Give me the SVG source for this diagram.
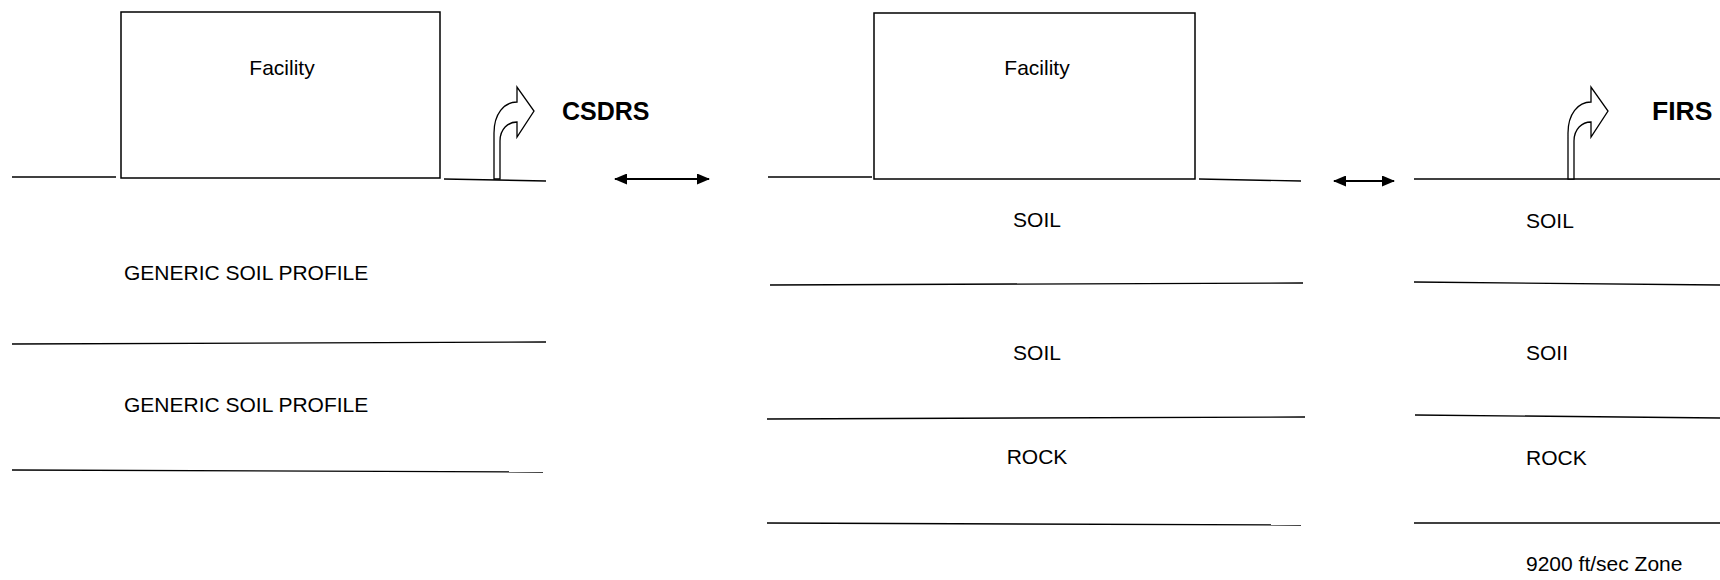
<svg xmlns="http://www.w3.org/2000/svg" width="1720" height="580" viewBox="0 0 1720 580">
<style>
.ln{stroke:#000;stroke-width:1.4;fill:none}
.box{stroke:#000;stroke-width:1.5;fill:#fff}
.t{font-family:"Liberation Sans",Arial,sans-serif;font-size:21px;fill:#000}
.b{font-family:"Liberation Sans",Arial,sans-serif;font-size:25px;font-weight:bold;fill:#000}
.c{text-anchor:middle}
.bent{stroke:#000;stroke-width:1.3;fill:#fff;stroke-linejoin:miter}
.dbl{stroke:#000;stroke-width:2;fill:none}
</style>
<defs>
<marker id="ah" viewBox="0 0 13 11" refX="12" refY="5.5" markerWidth="13" markerHeight="11" markerUnits="userSpaceOnUse" orient="auto-start-reverse">
<path d="M0,0 L13,5.5 L0,11 Z" fill="#000"/>
</marker>
<path id="bentArrow" d="M494,179 L494,133 C494,114 504,102 517,102 L517,87 L534,111 L517,137 L517,122 C508,122 500,129 500,141 L500,179 Z"/>
</defs>

<g id="left-profile">
<line class="ln" x1="12" y1="177" x2="116" y2="177"/>
<line class="ln" x1="444" y1="179" x2="546" y2="181"/>
<line class="ln" x1="12" y1="344" x2="546" y2="342"/>
<line class="ln" x1="12" y1="470" x2="543" y2="472"/>
<text class="t" x="124" y="280">GENERIC SOIL PROFILE</text>
<text class="t" x="124" y="412">GENERIC SOIL PROFILE</text>
</g>
<g id="left-facility">
<rect class="box" x="121" y="12" width="319" height="166"/>
<text class="t c" x="282" y="75">Facility</text>
</g>
<g id="csdrs">
<use href="#bentArrow" class="bent"/>
<text class="b" x="562" y="120">CSDRS</text>
</g>

<g id="middle-profile">
<line class="ln" x1="768" y1="177" x2="872" y2="177"/>
<line class="ln" x1="1199" y1="179" x2="1301" y2="181"/>
<line class="ln" x1="770" y1="285" x2="1303" y2="283"/>
<line class="ln" x1="767" y1="419" x2="1305" y2="417"/>
<line class="ln" x1="767" y1="523" x2="1301" y2="525"/>
<text class="t c" x="1037" y="227">SOIL</text>
<text class="t c" x="1037" y="360">SOIL</text>
<text class="t c" x="1037" y="464">ROCK</text>
</g>
<g id="middle-facility">
<rect class="box" x="874" y="13" width="321" height="166"/>
<text class="t c" x="1037" y="75">Facility</text>
</g>

<g id="right-profile">
<line class="ln" x1="1414" y1="179" x2="1720" y2="179"/>
<line class="ln" x1="1414" y1="282" x2="1720" y2="285"/>
<line class="ln" x1="1415" y1="415" x2="1720" y2="418"/>
<line class="ln" x1="1414" y1="523" x2="1720" y2="523"/>
<text class="t" x="1526" y="228">SOIL</text>
<text class="t" x="1526" y="360">SOII</text>
<text class="t" x="1526" y="465">ROCK</text>
<text class="t" x="1526" y="571">9200 ft/sec Zone</text>
</g>
<g id="firs">
<use href="#bentArrow" class="bent" transform="translate(1074,0)"/>
<text class="b" x="1652" y="120" style="font-size:26.5px">FIRS</text>
</g>

<g id="connectors">
<line class="dbl" x1="615" y1="179" x2="709" y2="179" marker-start="url(#ah)" marker-end="url(#ah)"/>
<line class="dbl" x1="1334" y1="181" x2="1394" y2="181" marker-start="url(#ah)" marker-end="url(#ah)"/>
</g>
</svg>
